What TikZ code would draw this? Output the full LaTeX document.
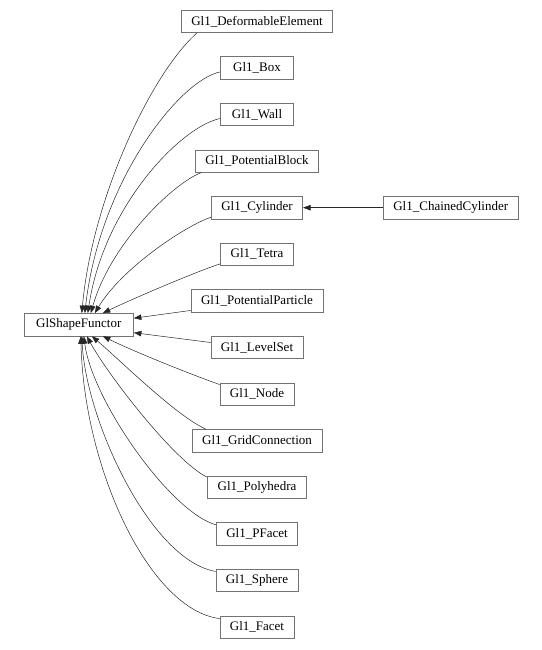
\documentclass[tikz,border=0pt]{standalone}
\usepackage{fontspec}
\setmainfont{Liberation Serif}
\usepackage{tikz}
\usetikzlibrary{arrows.meta,positioning}

\begin{document}
\begin{tikzpicture}[x=1pt,y=-1pt,>={Triangle[length=7.5pt,width=5.5pt]},node distance=23.5pt]
  \tikzstyle{cls}=[draw=black!55,line width=0.6pt,minimum width=73pt,minimum height=22.5pt,inner xsep=10pt,inner ysep=0pt,font=\fontsize{13}{15}\selectfont]
  \tikzstyle{inh}=[->,draw=black!85,line width=0.5pt]
  \useasboundingbox (0,0) rectangle (541,650);
  % base class
  \node[cls,minimum width=109.5pt] (shape) at (78.8,324.7) {GlShapeFunctor};
  % derived classes
  \node[cls] (deform) at (257,21.3) {Gl1\_DeformableElement};
  \node[cls,below=of deform] (box) {Gl1\_Box};
  \node[cls,below=of box] (wall) {Gl1\_Wall};
  \node[cls,below=of wall] (pblock) {Gl1\_PotentialBlock};
  \node[cls,below=of pblock] (cyl) {Gl1\_Cylinder};
  \node[cls,right=80pt of cyl] (chcyl) {Gl1\_ChainedCylinder};
  \node[cls,below=of cyl] (tetra) {Gl1\_Tetra};
  \node[cls,below=of tetra] (ppart) {Gl1\_PotentialParticle};
  \node[cls,below=of ppart] (lset) {Gl1\_LevelSet};
  \node[cls,below=of lset] (gnode) {Gl1\_Node};
  \node[cls,below=of gnode] (gconn) {Gl1\_GridConnection};
  \node[cls,below=of gconn] (poly) {Gl1\_Polyhedra};
  \node[cls,below=of poly] (pfacet) {Gl1\_PFacet};
  \node[cls,below=of pfacet] (sphere) {Gl1\_Sphere};
  \node[cls,below=of sphere] (facet) {Gl1\_Facet};
  % inheritance arrows
  \draw[inh] ([xshift=16pt]deform.south west) .. controls (150,75) and (92,200) .. ([xshift=3pt]shape.north);
  \draw[inh] ([yshift=-4pt]box.west) .. controls (180,80) and (100,180) .. ([xshift=6pt]shape.north);
  \draw[inh] ([yshift=-4pt]wall.west) .. controls (182,126) and (104,205) .. ([xshift=9pt]shape.north);
  \draw[inh] ([xshift=6pt]pblock.south west) .. controls (172,184) and (110,245) .. ([xshift=12pt]shape.north);
  \draw[inh] ([yshift=2pt]cyl.south west) .. controls (185,226) and (122,268) .. ([xshift=16pt]shape.north);
  \draw[inh] ([yshift=2pt]tetra.south west) .. controls (195,272) and (130,300) .. ([xshift=24pt]shape.north);
  \draw[inh] ([yshift=2pt]ppart.south west) -- ([yshift=6.5pt]shape.east);
  \draw[inh] ([yshift=5pt]lset.west) -- ([yshift=-8pt]shape.east);
  \draw[inh] ([yshift=-2pt]gnode.north west) .. controls (190,374) and (135,352) .. ([xshift=24pt]shape.south);
  \draw[inh] ([xshift=14pt]gconn.north west) .. controls (175,415) and (120,360) .. ([xshift=13pt]shape.south);
  \draw[inh] ([yshift=-1.5pt]poly.north west) .. controls (175,462) and (108,375) .. ([xshift=8pt]shape.south);
  \draw[inh] ([yshift=-2.5pt]pfacet.north west) .. controls (170,512) and (92,400) .. ([xshift=5pt]shape.south);
  \draw[inh] ([yshift=-2.5pt]sphere.north west) .. controls (150,560) and (86,420) .. ([xshift=3pt]shape.south);
  \draw[inh] ([yshift=-3pt]facet.north west) .. controls (150,610) and (84,470) .. ([xshift=2pt]shape.south);
  \draw[inh] (chcyl) -- (cyl);
\end{tikzpicture}
\end{document}
